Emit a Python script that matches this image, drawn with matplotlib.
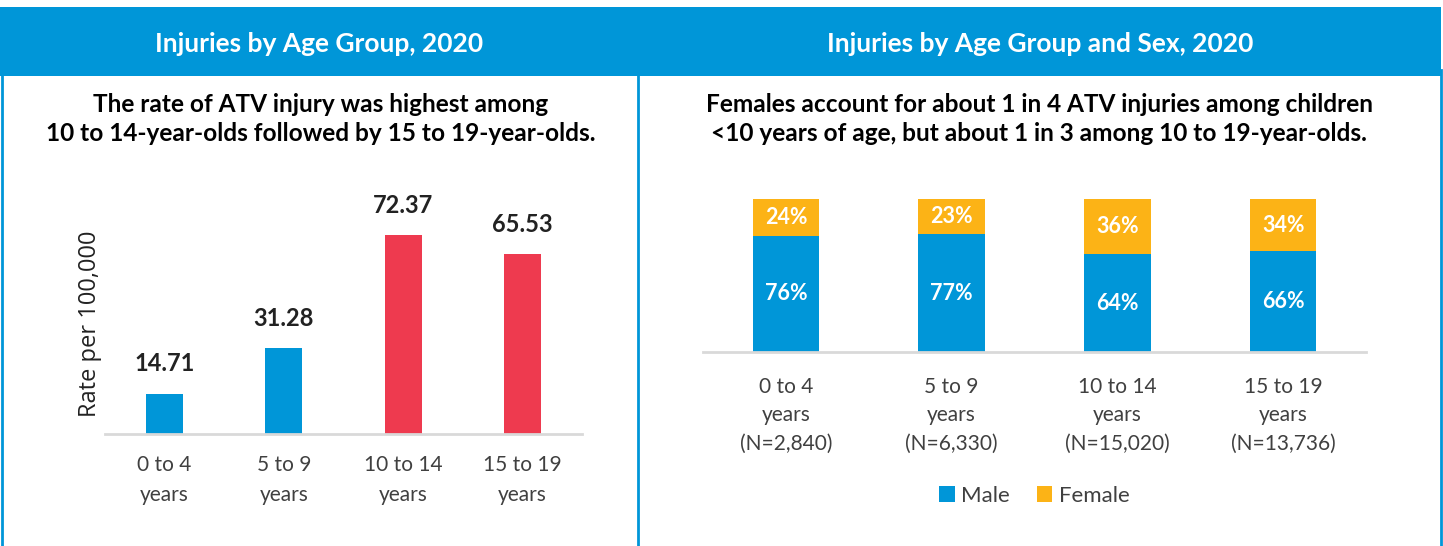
import matplotlib
matplotlib.use('Agg')
import matplotlib.pyplot as plt
from matplotlib.patches import Rectangle
from matplotlib.lines import Line2D
import numpy as np

# data
age_groups = ['0 to 4\nyears', '5 to 9\nyears', '10 to 14\nyears', '15 to 19\nyears']
rates = [14.71, 31.28, 72.37, 65.53]
sex_groups = ['0 to 4\nyears\n(N=2,840)', '5 to 9\nyears\n(N=6,330)',
              '10 to 14\nyears\n(N=15,020)', '15 to 19\nyears\n(N=13,736)']
male_pct = [76, 77, 64, 66]
female_pct = [24, 23, 36, 34]

BLUE = '#0096D8'
RED = '#EE3A4F'
ORANGE = '#FCB316'
TXT = '#404040'
FONT = 'Lato'

W, H = 1443, 546
fig = plt.figure(figsize=(W / 100, H / 100), dpi=100)


def fx(px):
    return px / W


def fy(py):
    return 1 - py / H


# frame: header band, borders, divider
fig.patches.append(Rectangle((fx(0), fy(76)), fx(1441), 69 / H, transform=fig.transFigure,
                             facecolor=BLUE, edgecolor='none'))
for x in (2, 638, 1441):
    fig.lines.append(Line2D([fx(x), fx(x)], [0, fy(70)], transform=fig.transFigure,
                            color=BLUE, lw=2))

fig.text(fx(319), fy(44), 'Injuries by Age Group, 2020', color='white', ha='center', va='center',
         fontsize=19, fontweight='bold', family=FONT)
fig.text(fx(1040), fy(44), 'Injuries by Age Group and Sex, 2020', color='white', ha='center',
         va='center', fontsize=19, fontweight='bold', family=FONT)

fig.text(fx(321), fy(119), 'The rate of ATV injury was highest among\n'
         '10 to 14-year-olds followed by 15 to 19-year-olds.', ha='center', va='center',
         fontsize=17.6, fontweight='bold', family=FONT, linespacing=1.3, color='black')
fig.text(fx(1039), fy(119), 'Females account for about 1 in 4 ATV injuries among children\n'
         '<10 years of age, but about 1 in 3 among 10 to 19-year-olds.', ha='center', va='center',
         fontsize=17.6, fontweight='bold', family=FONT, linespacing=1.3, color='black')

# left chart
ax1 = fig.add_axes([fx(105), fy(434), 477 / W, 220 / H])
x = np.arange(len(age_groups))
colors = [BLUE, BLUE, RED, RED]
bars = ax1.bar(x, rates, width=0.31, color=colors)
for b, v in zip(bars, rates):
    ax1.text(b.get_x() + b.get_width() / 2, v + 10.8, f'{v:.2f}', ha='center', va='center',
             fontsize=17, fontweight='bold', family=FONT, color='#222222')
ax1.set_xlim(-0.5, 3.5)
ax1.set_ylim(0, 80)
ax1.set_xticks(x)
ax1.set_xticklabels(age_groups, fontsize=15, family=FONT, color=TXT, linespacing=1.62)
ax1.tick_params(axis='x', length=0, pad=15)
ax1.set_yticks([])
for s in ('top', 'right', 'left'):
    ax1.spines[s].set_visible(False)
ax1.spines['bottom'].set_color('#D9D9D9')
ax1.spines['bottom'].set_linewidth(2)
ax1.set_ylabel('Rate per 100,000', fontsize=17, family='Open Sans', color='#222222', labelpad=2)

# right chart
ax2 = fig.add_axes([fx(703), fy(352), 663 / W, 153 / H])
x2 = np.arange(len(sex_groups))
mb = ax2.bar(x2, male_pct, width=0.40, color=BLUE, label='Male')
fb = ax2.bar(x2, female_pct, width=0.40, bottom=male_pct, color=ORANGE, label='Female')
for i in range(len(x2)):
    ax2.text(x2[i], male_pct[i] / 2, f'{male_pct[i]}%', ha='center', va='center', color='white',
             fontsize=15.5, fontweight='bold', family=FONT)
    ax2.text(x2[i], male_pct[i] + female_pct[i] / 2, f'{female_pct[i]}%', ha='center', va='center',
             color='white', fontsize=15.5, fontweight='bold', family=FONT)
ax2.set_xlim(-0.5, 3.5)
ax2.set_ylim(0, 100)
ax2.set_xticks(x2)
ax2.set_xticklabels(sex_groups, fontsize=15, family=FONT, color=TXT, linespacing=1.53)
ax2.tick_params(axis='x', length=0, pad=18)
ax2.set_yticks([])
for s in ('top', 'right', 'left'):
    ax2.spines[s].set_visible(False)
ax2.spines['bottom'].set_color('#D9D9D9')
ax2.spines['bottom'].set_linewidth(2)
ax2.legend(loc='center', bbox_to_anchor=(0.5, -0.94), ncol=2, frameon=False,
           prop={'family': FONT, 'size': 16}, handlelength=0.7, handleheight=0.7,
           handletextpad=0.3, columnspacing=1.2, labelcolor=TXT)

fig.savefig('out.png', dpi=100)
